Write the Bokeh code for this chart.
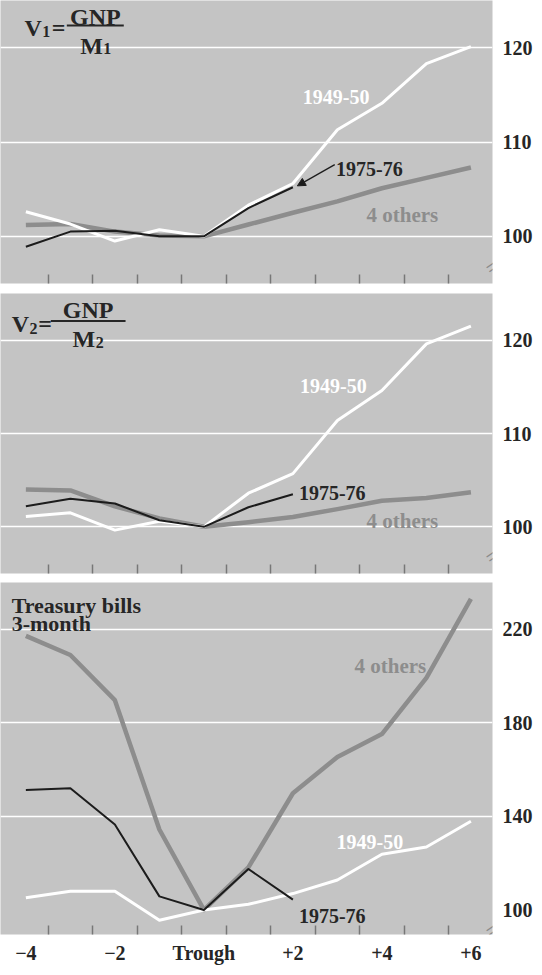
from bokeh.plotting import figure
from bokeh.layouts import column
from bokeh.models import Range1d, FixedTicker, Label, Arrow, NormalHead, BoxAnnotation
from bokeh.embed import file_html
from bokeh.resources import INLINE

# ---------------- data ----------------
quarters = [-4, -3, -2, -1, 0, 1, 2, 3, 4, 5, 6]
quarters_1975 = [-4, -3, -2, -1, 0, 1, 2]

v1_1949 = [102.6, 101.3, 99.5, 100.7, 100.0, 103.3, 105.6, 111.3, 114.1, 118.3, 120.1]
v1_1975 = [98.9, 100.5, 100.6, 100.0, 100.0, 103.0, 105.2]
v1_others = [101.2, 101.3, 100.5, 100.1, 100.0, 101.25, 102.5, 103.7, 105.1, 106.2, 107.3]

v2_1949 = [101.1, 101.5, 99.65, 100.6, 100.0, 103.6, 105.7, 111.4, 114.6, 119.6, 121.5]
v2_1975 = [102.2, 103.0, 102.5, 100.7, 100.0, 102.1, 103.5]
v2_others = [104.0, 103.9, 102.2, 100.9, 100.0, 100.5, 101.05, 101.9, 102.8, 103.1, 103.7]

tb_1949 = [105.2, 108.0, 108.0, 95.6, 100.0, 102.4, 107.0, 112.8, 123.8, 126.9, 137.9]
tb_1975 = [151.3, 152.0, 136.5, 105.8, 100.0, 117.5, 104.4]
tb_others = [217.2, 209.0, 189.7, 134.4, 100.0, 118.2, 149.9, 165.4, 175.2, 199.2, 233.0]

x_label_ticks = [-4, -2, 0, 2, 4, 6]
x_label_texts = ["\u22124", "\u22122", "Trough", "+2", "+4", "+6"]
x_minor_ticks = [-3.5, -2.5, -1.5, -0.5, 0.5, 1.5, 2.5, 3.5, 4.5, 5.5]

v_ticks = [100, 110, 120]
tb_ticks = [100, 140, 180, 220]
tb_grid = [140, 180, 220]

# ---------------- styles ----------------
BG = "#c4c4c4"
OTHERS = "#8d8d8d"
BLACK = "#1c1c1c"
TEXT = "#262626"
TICK = "#777777"
FONT = "Liberation Serif"


def make_panel(y0, y1, axis_ticks, grid_ticks, frame_h, bottom_gap, show_labels):
    p = figure(frame_width=492, frame_height=frame_h,
               x_range=Range1d(-4.57, 6.485), y_range=Range1d(y0, y1),
               y_axis_location="right", toolbar_location=None,
               output_backend="svg", background_fill_color=BG,
               border_fill_color="white", outline_line_color=None,
               min_border_left=0, min_border_top=0, min_border_right=34,
               min_border_bottom=bottom_gap)
    p.xgrid.visible = False
    p.ygrid.ticker = FixedTicker(ticks=grid_ticks)
    p.ygrid.grid_line_color = "white"
    p.ygrid.grid_line_width = 1.6

    ya = p.yaxis[0]
    ya.ticker = FixedTicker(ticks=axis_ticks)
    ya.axis_line_color = None
    ya.major_tick_line_color = None
    ya.minor_tick_line_color = None
    ya.major_label_standoff = 4
    ya.major_label_text_font = FONT
    ya.major_label_text_font_style = "bold"
    ya.major_label_text_font_size = "20px"
    ya.major_label_text_color = TEXT

    xa = p.xaxis[0]
    xa.axis_line_color = None
    xa.major_tick_line_color = None
    xa.minor_tick_in = 9
    xa.minor_tick_out = 0
    xa.minor_tick_line_color = TICK
    xa.minor_tick_line_width = 1.5
    if show_labels:
        xa.ticker = FixedTicker(ticks=x_label_ticks, minor_ticks=x_minor_ticks)
        xa.major_label_overrides = {t: s for t, s in zip(x_label_ticks, x_label_texts)}
        xa.major_label_standoff = 1
        xa.major_label_text_font = FONT
        xa.major_label_text_font_style = "bold"
        xa.major_label_text_font_size = "20px"
        xa.major_label_text_color = TEXT
    else:
        xa.ticker = FixedTicker(ticks=[], minor_ticks=x_minor_ticks)
        xa.major_label_standoff = 0
    return p


def txt(p, x, y, s, size, color=TEXT, align="left", bold=True):
    p.add_layout(Label(x=x, y=y, text=s, text_font=FONT,
                       text_font_size=f"{size}px", text_color=color,
                       text_font_style="bold" if bold else "normal",
                       text_align=align, text_baseline="alphabetic"))


def lines(p, xs, others, y1949, xs75, y1975):
    p.line(xs, others, line_color=OTHERS, line_width=4.5, line_join="round")
    p.line(xs, y1949, line_color="white", line_width=3, line_join="round")
    p.line(xs75, y1975, line_color=BLACK, line_width=2, line_join="round")


def break_mark(p, y):
    p.add_layout(Label(x=6.485, y=y, text="=", text_font=FONT, text_font_size="24px",
                       text_color="#8a8a8a", angle=0.6, text_align="center",
                       text_baseline="middle"))


def fraction(p, vx, vy, sub, ex, bar_l, bar_r, bar_y, num_y, mx, my):
    txt(p, vx, vy, "V", 24)
    txt(p, vx + 0.40, vy - 0.4, sub, 16)
    txt(p, ex, vy, "=", 24)
    cx = (bar_l + bar_r) / 2
    txt(p, cx, num_y, "GNP", 24, align="center")
    p.add_layout(BoxAnnotation(left=bar_l, right=bar_r, bottom=bar_y - 0.1,
                               top=bar_y + 0.1, fill_color=TEXT,
                               fill_alpha=1, line_color=None))
    txt(p, mx, my, "M", 24)
    txt(p, mx + 0.52, my - 0.3, sub, 16)


# ---------------- panel 1 ----------------
p1 = make_panel(95, 125, v_ticks, v_ticks, 283, 10, False)
lines(p1, quarters, v1_others, v1_1949, quarters_1975, v1_1975)
fraction(p1, -4.03, 122.1, "1", -3.42, -3.08, -1.80, 122.35, 123.3, -2.78, 120.2)
txt(p1, 2.97, 114.8, "1949-50", 20, color="white", align="center")
txt(p1, 2.97, 107.1, "1975-76", 20)
txt(p1, 4.46, 102.3, "4 others", 21, color=OTHERS, align="center")
p1.add_layout(Arrow(x_start=2.94, y_start=107.6, x_end=2.1, y_end=105.35,
                    line_color=BLACK, line_width=1.3,
                    end=NormalHead(size=8, fill_color=BLACK, line_color=BLACK)))
break_mark(p1, 96.8)

# ---------------- panel 2 ----------------
p2 = make_panel(95, 125, v_ticks, v_ticks, 280, 9, False)
lines(p2, quarters, v2_others, v2_1949, quarters_1975, v2_1975)
fraction(p2, -4.32, 121.7, "2", -3.72, -3.44, -1.76, 122.05, 123.2, -2.95, 120.1)
txt(p2, 2.91, 115.05, "1949-50", 20, color="white", align="center")
txt(p2, 2.135, 103.6, "1975-76", 20)
txt(p2, 4.46, 100.6, "4 others", 21, color=OTHERS, align="center")
break_mark(p2, 96.9)

# ---------------- panel 3 ----------------
p3 = make_panel(89.5, 240, tb_ticks, tb_grid, 352, 0, True)
lines(p3, quarters, tb_others, tb_1949, quarters_1975, tb_1975)
txt(p3, -4.32, 230.2, "Treasury bills", 22)
txt(p3, -4.32, 222.4, "3-month", 22)
txt(p3, 4.19, 204.4, "4 others", 21, color=OTHERS, align="center")
txt(p3, 3.73, 129.0, "1949-50", 20, color="white", align="center")
txt(p3, 2.135, 97.5, "1975-76", 20)
break_mark(p3, 91.6)

layout = column(p1, p2, p3, spacing=0)
open("out.html", "w").write(file_html(layout, INLINE))
